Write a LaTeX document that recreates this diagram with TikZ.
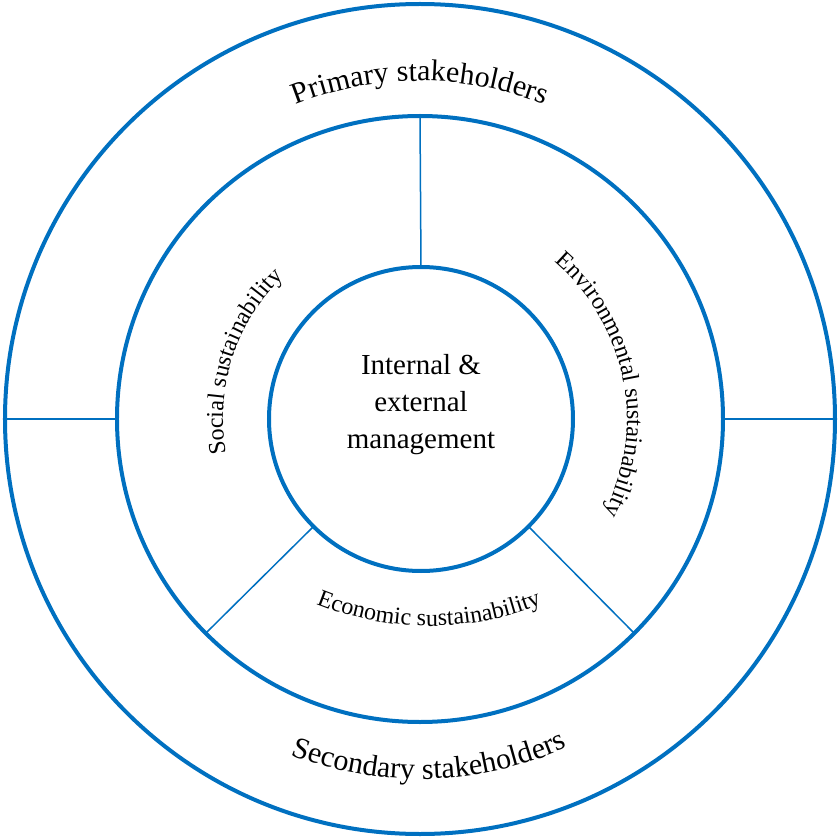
\documentclass[tikz,border=0pt]{standalone}
\usepackage{fontspec}
\setmainfont{Liberation Serif}
\usepackage{tikz}
\usetikzlibrary{calc}
\usetikzlibrary{decorations.text}
\definecolor{ringblue}{RGB}{0,112,192}

\begin{document}
\begin{tikzpicture}[x=1pt, y=1pt, semithick]
    \tikzstyle{ring}=[circle,draw=ringblue,line width=4pt,inner sep=0pt,outer sep=0pt]
    \tikzstyle{seg}=[draw=ringblue,line width=1.5pt]
    \tikzstyle{curved}=[decorate]
    \useasboundingbox (-420,-419) rectangle (418,419);
    \node[ring,minimum size=830pt]    (outer)  at (0,0)   {};
    \node[ring,minimum size=606pt]    (middle) at (0,0)   {};
    \node[ring,minimum size=304pt]    (inner)  at (1,0)   {};
    \node[align=center,font=\fontsize{29}{37}\selectfont] (mgmt) at (1,14)
        {Internal \&\\external\\management};
    \path[seg]
    (inner.90)
      edge	(middle.90)
    (inner.225)
      edge	(middle.225)
    (inner.315)
      edge	(middle.315)
    (middle.180)
      edge	(outer.180)
    (middle.0)
      edge	(outer.0);
    % ring labels
    \path[curved,decoration={text along path,text align=center,
        text={|\fontsize{30}{36}\selectfont|Primary stakeholders}}]
      (160:338pt) arc[start angle=160,end angle=20,radius=338pt];
    \path[curved,decoration={text along path,text align=center,
        text={|\fontsize{30}{36}\selectfont|Secondary stakeholders}}]
      (201.6:360pt) arc[start angle=201.6,end angle=341.6,radius=360pt];
    \path[curved,decoration={text along path,text align=center,
        text={|\fontsize{24}{29}\selectfont|Social sustainability}}]
      (222:197pt) arc[start angle=222,end angle=102,radius=197pt];
    \path[curved,decoration={text along path,text align=center,
        text={|\fontsize{24}{29}\selectfont|Environmental sustainability}}]
      (71.2:207pt) arc[start angle=71.2,end angle=-48.8,radius=207pt];
    \path[curved,decoration={text along path,text align=center,
        text={|\fontsize{24}{29}\selectfont|Economic sustainability}}]
      ($(9,93)+(240:300pt)$) arc[start angle=240,end angle=300,radius=300pt];
\end{tikzpicture}
\end{document}
